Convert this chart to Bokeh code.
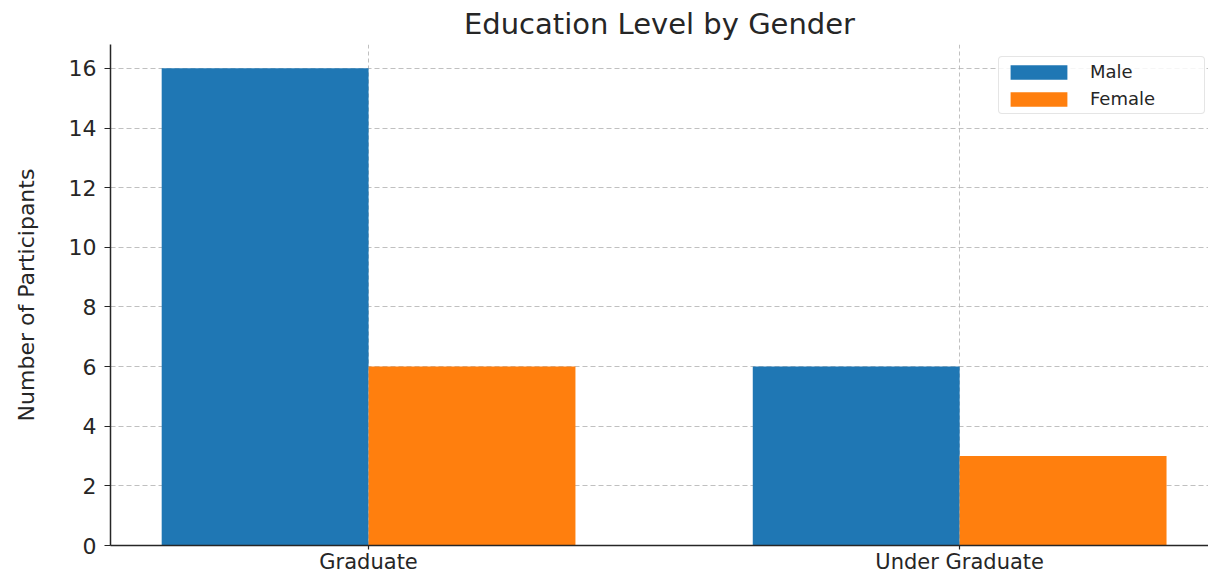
import numpy as np
from bokeh.plotting import figure
from bokeh.models import Range1d, FixedTicker, ColumnDataSource, Legend, LegendItem
from bokeh.embed import file_html
from bokeh.resources import INLINE

categories = ["Graduate", "Under Graduate"]
male = [16, 6]
female = [6, 3]
y_ticks = [0, 2, 4, 6, 8, 10, 12, 14, 16]

x = np.arange(len(categories))
bar_w = 0.35

src = ColumnDataSource(dict(
    xm=x - bar_w / 2, xf=x + bar_w / 2, male=male, female=female))

p = figure(width=1208, height=576, output_backend="svg", toolbar_location=None,
           x_range=Range1d(-0.4366, 1.421), y_range=Range1d(0, 16.8),
           title="Education Level by Gender",
           min_border_left=110, min_border_right=0, min_border_top=0, min_border_bottom=10)
p.outline_line_color = None
p.background_fill_color = "white"
p.border_fill_color = "white"

p.title.align = "center"
p.title.text_font = "DejaVu Sans"
p.title.text_font_size = "29px"
p.title.text_font_style = "normal"
p.title.text_color = "#262626"
p.title.offset = 0
p.title.standoff = 8

rm = p.vbar(x="xm", top="male", width=bar_w, source=src, fill_color="#1f77b4", line_color=None)
rf = p.vbar(x="xf", top="female", width=bar_w, source=src, fill_color="#ff7f0e", line_color=None)

p.xaxis.ticker = FixedTicker(ticks=list(x))
p.xaxis.major_label_overrides = {int(i): c for i, c in zip(x, categories)}
p.yaxis.ticker = FixedTicker(ticks=y_ticks)
p.yaxis.axis_label = "Number of Participants"

for ax in (p.xaxis, p.yaxis):
    ax.axis_line_color = "#262626"
    ax.axis_line_width = 1.5
    ax.major_tick_line_color = "#262626"
    ax.major_tick_line_width = 1.2
    ax.major_tick_in = 0
    ax.major_tick_out = 6
    ax.minor_tick_line_color = None
    ax.major_label_text_font = "DejaVu Sans"
    ax.major_label_text_font_size = "22px"
    ax.major_label_text_color = "#262626"
    ax.axis_label_text_font = "DejaVu Sans"
    ax.axis_label_text_font_size = "22px"
    ax.axis_label_text_font_style = "normal"
    ax.axis_label_text_color = "#262626"
p.xaxis.major_tick_out = 4
p.xaxis.major_label_standoff = 0
p.xaxis.major_label_text_font_size = "21px"
p.yaxis.major_label_standoff = 8
p.yaxis.axis_label_standoff = 27

p.xgrid.grid_line_color = "#b0b0b0"
p.xgrid.grid_line_dash = "4 3"
p.xgrid.grid_line_alpha = 0.8
p.ygrid.grid_line_color = "#b0b0b0"
p.ygrid.grid_line_dash = "5 3"
p.ygrid.grid_line_alpha = 0.8

legend = Legend(items=[LegendItem(label="Male", renderers=[rm]),
                       LegendItem(label="Female", renderers=[rf])],
                location=(888, 431))
legend.label_text_font = "DejaVu Sans"
legend.label_text_font_size = "18px"
legend.label_text_color = "#262626"
legend.glyph_width = 71
legend.glyph_height = 18
legend.label_standoff = 16
legend.label_width = 110
legend.label_height = 16
legend.spacing = 6
legend.padding = 4
legend.margin = 0
legend.border_line_color = "#cccccc"
legend.border_line_width = 1
legend.border_radius = 4
legend.background_fill_alpha = 0.85
p.add_layout(legend)

open("out.html", "w").write(file_html(p, INLINE))
